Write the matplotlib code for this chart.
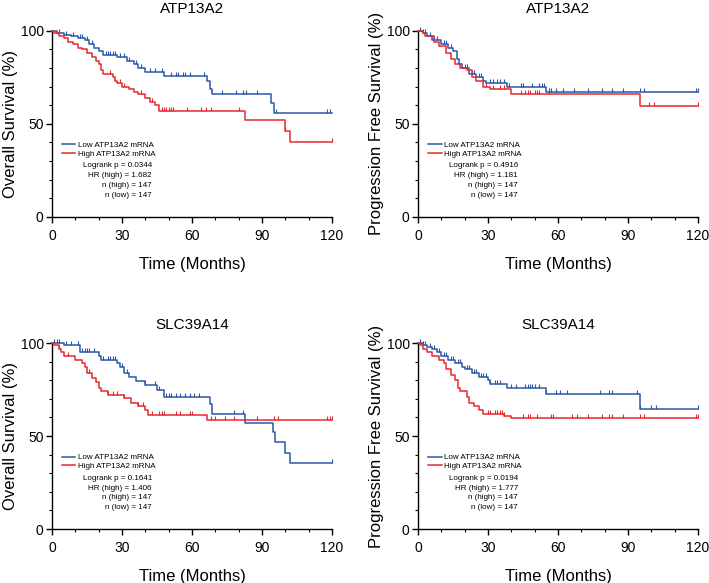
import numpy as np
import matplotlib

matplotlib.use('Agg')
import matplotlib.pyplot as plt
from matplotlib.ticker import MultipleLocator

plt.rcParams['font.family'] = ['Liberation Sans', 'DejaVu Sans']

BLUE = '#2b59a8'
RED = '#e52a2e'

# ============================================
# DATA
# ============================================
# Panel 1: ATP13A2, overall survival
os_atp_low_t = [0, 2, 5, 8, 11, 14, 16, 18, 20, 22, 28, 32, 35, 37, 40, 48, 66.5, 67.5, 68.5, 94, 95, 120]
os_atp_low_s = [100, 99, 98, 97, 96, 95, 93, 91, 89, 87, 86, 84, 82, 80, 78, 76, 73, 69, 66, 61, 56, 56]
os_atp_low_cens = [3, 6, 9, 12, 13, 15, 17, 23, 24, 25, 26, 27, 29, 31, 33, 36, 38, 42, 44, 47,
                   51, 53, 54, 56, 57, 59, 65, 73, 79, 82, 83, 88, 96, 118, 119]
os_atp_high_t = [0, 1, 3, 5, 7, 9, 11, 13, 15, 17, 19, 20, 21, 22, 26, 27, 28, 30, 33, 35, 37, 40,
                 42, 44, 46, 82.5, 100, 102, 120]
os_atp_high_s = [100, 99, 97, 96, 94, 93, 91, 90, 88, 86, 84, 82, 79, 77, 75, 73, 72, 70, 69, 67,
                 66, 64, 62, 60, 57, 52, 46, 40, 40]
os_atp_high_cens = [25, 29, 31, 38, 43, 47, 48, 49, 50, 51, 52, 58, 64, 66, 68, 80, 100, 120]

# Panel 2: ATP13A2, progression free survival
pfs_atp_low_t = [0, 2, 4, 6, 10, 13, 15, 16.5, 17.5, 19, 22, 25, 28, 29, 38, 55, 120]
pfs_atp_low_s = [100, 99, 97, 95, 93, 91, 89, 85, 82, 80, 77, 75, 73, 72, 70, 67, 67]
pfs_atp_low_cens = [1, 2, 3, 5, 7, 8, 11, 12, 14, 20, 21, 23, 24, 26, 27, 31, 32, 34, 35, 37, 39,
                    44, 45, 49, 52, 53, 54, 56, 57, 59, 62, 67, 73, 79, 83, 88, 95, 97, 119, 120]
pfs_atp_high_t = [0, 2, 3, 7, 9, 12, 14, 16, 18, 21, 23, 25, 28, 31, 40, 95, 120]
pfs_atp_high_s = [100, 99, 97, 94, 92, 88, 85, 82, 80, 79, 75, 73, 70, 69, 66, 59.5, 59.5]
pfs_atp_high_cens = [29, 32, 35, 37, 44, 46, 47, 48, 50, 51, 52, 56, 99, 101, 120]

# Panel 3: SLC39A14, overall survival
os_slc_low_t = [0, 5, 12, 20, 21, 28, 29, 31, 33, 36, 40, 45, 48, 67.5, 68.5, 82.5, 94.5, 95.5,
                100, 102, 120]
os_slc_low_s = [100, 99, 95, 93, 91, 89, 87, 84, 82, 79.5, 77.5, 75, 71, 67, 62, 57, 52, 47,
                41, 35.5, 35.5]
os_slc_low_cens = [1, 2, 3, 6, 8, 11, 13, 14, 15, 16, 18, 22, 24, 25, 26, 27, 30, 32, 40, 44,
                   46, 49, 50, 51, 53, 55, 57, 59, 61, 63, 78, 82, 120]
os_slc_high_t = [0, 1, 3, 4, 5, 10, 13, 14, 15, 17, 19, 20, 21, 24, 31, 34, 37, 40, 41, 66.5, 120]
os_slc_high_s = [100, 99, 97, 95, 93, 91, 89, 87, 84, 81, 79, 76, 74, 72, 70.5, 68, 66, 64,
                 61.5, 58.5, 58.5]
os_slc_high_cens = [3, 7, 16, 24, 26, 28, 31, 37, 39, 43, 46, 47, 48, 53, 55, 59, 60, 68, 70,
                    74, 78, 88, 95, 97, 118, 119, 120]

# Panel 4: SLC39A14, progression free survival
pfs_slc_low_t = [0, 2, 4, 6, 8, 10, 13, 16, 19, 20, 23, 26, 30, 31, 38, 55, 95, 120]
pfs_slc_low_s = [100, 99, 98, 97, 95, 93, 91, 89, 87, 86, 84, 82, 80, 78, 76, 72.5, 64.5, 64.5]
pfs_slc_low_cens = [1, 2, 3, 5, 7, 9, 11, 12, 14, 15, 17, 18, 21, 22, 24, 25, 27, 28, 29, 31,
                    33, 34, 35, 40, 42, 46, 47, 48, 49, 50, 52, 55, 59, 61, 64, 78, 82, 83, 94,
                    95, 100, 102, 120]
pfs_slc_high_t = [0, 1, 2, 4, 6, 9, 11, 12, 14, 16, 17, 18, 21, 22, 24, 26, 28, 37, 40, 120]
pfs_slc_high_s = [100, 99, 97, 95, 93, 91, 89, 86, 83, 80, 76, 74, 71, 68, 66, 64, 62, 61,
                  59.5, 59.5]
pfs_slc_high_cens = [30, 31, 33, 34, 35, 36, 37, 45, 47, 48, 51, 57, 58, 66, 68, 73, 79, 82, 83,
                     88, 95, 97, 119, 120]

# Panel text
titles = ['ATP13A2', 'ATP13A2', 'SLC39A14', 'SLC39A14']
ylabels = ['Overall Survival (%)', 'Progression Free Survival (%)',
           'Overall Survival (%)', 'Progression Free Survival (%)']
logrank_p = ['0.0344', '0.4916', '0.1641', '0.0194']
hr_high = ['1.682', '1.181', '1.406', '1.777']
n_high = [147, 147, 147, 147]
n_low = [147, 147, 147, 147]
legend_labels = ['Low ATP13A2 mRNA', 'High ATP13A2 mRNA']

curves = [
    (os_atp_low_t, os_atp_low_s, os_atp_low_cens, os_atp_high_t, os_atp_high_s, os_atp_high_cens),
    (pfs_atp_low_t, pfs_atp_low_s, pfs_atp_low_cens, pfs_atp_high_t, pfs_atp_high_s, pfs_atp_high_cens),
    (os_slc_low_t, os_slc_low_s, os_slc_low_cens, os_slc_high_t, os_slc_high_s, os_slc_high_cens),
    (pfs_slc_low_t, pfs_slc_low_s, pfs_slc_low_cens, pfs_slc_high_t, pfs_slc_high_s, pfs_slc_high_cens),
]

# axes rectangles in figure fraction
positions = [
    [0.0733, 0.628, 0.395, 0.319],
    [0.5896, 0.628, 0.395, 0.319],
    [0.0733, 0.0926, 0.395, 0.319],
    [0.5896, 0.0926, 0.395, 0.319],
]
title_pads = [13, 13, 10, 10]

# censor tick: short vertical stroke going up from the curve
CENSOR = [(0, 0), (0, 1)]


def draw_km(ax, t, s, cens, color, label):
    t = np.asarray(t, dtype=float)
    s = np.asarray(s, dtype=float)
    line, = ax.step(t, s, where='post', color=color, lw=1.1, label=label, clip_on=False, zorder=3)
    c = np.asarray(cens, dtype=float)
    idx = np.searchsorted(t, c, side='right') - 1
    ax.plot(c, s[idx], linestyle='none', marker=CENSOR, markersize=6, markeredgewidth=0.8,
            color=color, clip_on=False, zorder=3)
    return line


fig = plt.figure(figsize=(7.09, 5.83), dpi=100)

for i in range(4):
    ax = fig.add_axes(positions[i])
    lt, ls, lc, ht, hs, hc = curves[i]
    h_low = draw_km(ax, lt, ls, lc, BLUE, legend_labels[0])
    h_high = draw_km(ax, ht, hs, hc, RED, legend_labels[1])

    ax.set_xlim(0, 120)
    ax.set_ylim(0, 100)
    ax.xaxis.set_major_locator(MultipleLocator(30))
    ax.xaxis.set_minor_locator(MultipleLocator(10))
    ax.yaxis.set_major_locator(MultipleLocator(50))
    ax.yaxis.set_minor_locator(MultipleLocator(10))
    for side in ['top', 'right']:
        ax.spines[side].set_visible(False)
    for side in ['left', 'bottom']:
        ax.spines[side].set_linewidth(1.0)
    ax.tick_params(which='major', direction='out', length=4.5, width=1.0, labelsize=10)
    ax.tick_params(which='minor', direction='out', length=2.5, width=0.8)
    ax.tick_params(axis='x', which='major', pad=4)
    ax.tick_params(axis='y', which='major', pad=1.5)

    ax.set_title(titles[i], fontsize=11, pad=title_pads[i])
    ax.set_xlabel('Time (Months)', fontsize=12, labelpad=10)
    ax.set_ylabel(ylabels[i], fontsize=12, labelpad=2)

    ax.legend(handles=[h_low, h_high], loc='upper left', bbox_to_anchor=(0.035, 0.405),
              frameon=False, fontsize=5.8, borderpad=0, borderaxespad=0,
              handlelength=1.7, handletextpad=0.35, labelspacing=0.15)

    stats = [f'Logrank p = {logrank_p[i]}', f'HR (high) = {hr_high[i]}',
             f'n (high) = {n_high[i]}', f'n (low) = {n_low[i]}']
    for txt, yy in zip(stats, [0.274, 0.22, 0.167, 0.113]):
        ax.text(0.357, yy, txt, transform=ax.transAxes, fontsize=5.8, ha='right', va='center')

fig.savefig('out.png', dpi=100)
